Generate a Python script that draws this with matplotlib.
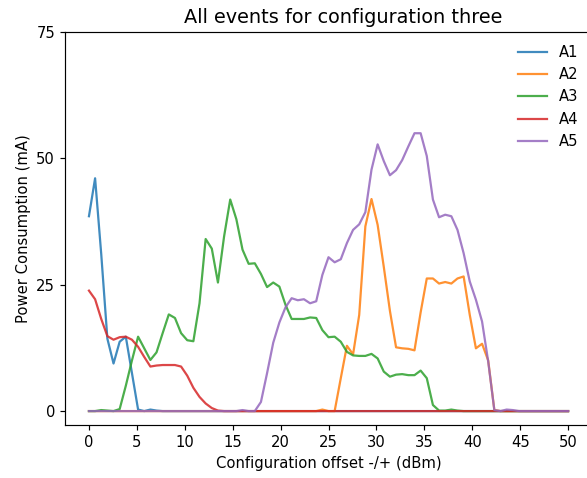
import numpy as np
import matplotlib
matplotlib.use("Agg")
import matplotlib.pyplot as plt

# x offsets (79 evenly spaced samples 0..50 dBm)
offsets = np.linspace(0, 50, 79)

series_names = ["A1", "A2", "A3", "A4", "A5"]

a1 = [38.5, 46.0, 31.0, 14.3, 9.4, 13.7, 14.7, 7.5, 0.3, 0.0, 0.3, 0.1] + [0.0] * 67

a2 = [0.0] * 38 + [0.3, 0.0, 0.0, 6.5, 12.9, 11.2, 19.0, 36.5, 41.9, 36.8, 28.5, 19.8,
                   12.6, 12.4, 12.3, 12.0, 19.5, 26.2, 26.2, 25.2, 25.5, 25.2, 26.2, 26.6,
                   19.0, 12.4, 13.3, 10.0, 0.2] + [0.0] * 12

a3 = [0.0, 0.0, 0.2, 0.1, 0.0, 0.4, 5.0, 10.0, 14.7, 12.4, 10.1, 11.6, 15.4, 19.1, 18.4,
      15.4, 14.0, 13.8, 21.3, 34.0, 32.1, 25.4, 34.5, 41.8, 37.9, 31.9, 29.1, 29.2, 27.1,
      24.5, 25.4, 24.6, 21.0, 18.2, 18.2, 18.2, 18.5, 18.4, 16.0, 14.6, 14.7, 13.7, 11.7,
      11.0, 10.9, 10.9, 11.3, 10.4, 7.8, 6.8, 7.2, 7.3, 7.1, 7.1, 8.0, 6.5, 1.2, 0.1, 0.1,
      0.3, 0.1] + [0.0] * 18

a4 = [23.8, 22.1, 18.2, 14.8, 14.1, 14.6, 14.7, 14.1, 12.7, 10.7, 8.8, 9.0, 9.1, 9.1,
      9.1, 8.8, 7.0, 4.6, 2.8, 1.5, 0.6, 0.1] + [0.0] * 57

a5 = [0.0] * 25 + [0.2, 0.0, 0.0, 1.8, 7.5, 13.5, 17.5, 20.5, 22.3, 21.9, 22.1, 21.3, 21.7,
                   26.9, 30.4, 29.4, 30.0, 33.2, 35.8, 36.9, 39.3, 47.7, 52.7, 49.4, 46.6,
                   47.6, 49.6, 52.3, 54.9, 54.9, 50.4, 41.8, 38.3, 38.8, 38.5, 35.8, 31.2,
                   25.6, 22.0, 17.7, 9.8, 0.2, 0.0, 0.3, 0.2] + [0.0] * 9

x_ticks = [0, 5, 10, 15, 20, 25, 30, 35, 40, 45, 50]
y_ticks = [0, 25, 50, 75]

fs = 10.6
fig = plt.figure(figsize=(5.87, 4.78), dpi=100)
ax = fig.add_axes([65 / 587, 53 / 478, 527 / 587, 393.5 / 478])

for name, vals in zip(series_names, [a1, a2, a3, a4, a5]):
    ax.plot(offsets, vals, label=name, linewidth=1.6, alpha=0.85)

ax.set_xlim(-2.5, 52.5)
ax.set_ylim(-2.75, 75)
ax.set_xticks(x_ticks)
ax.set_yticks(y_ticks)
ax.tick_params(labelsize=fs, length=3.7, width=0.85)
for s in ax.spines.values():
    s.set_linewidth(0.85)
ax.set_title("All events for configuration three", fontsize=13.9, pad=6.0, x=0.528)
ax.set_xlabel("Configuration offset -/+ (dBm)", fontsize=fs)
ax.set_ylabel("Power Consumption (mA)", fontsize=fs)
ax.legend(loc="upper right", frameon=False, fontsize=fs)

fig.savefig("out.png", dpi=100)
